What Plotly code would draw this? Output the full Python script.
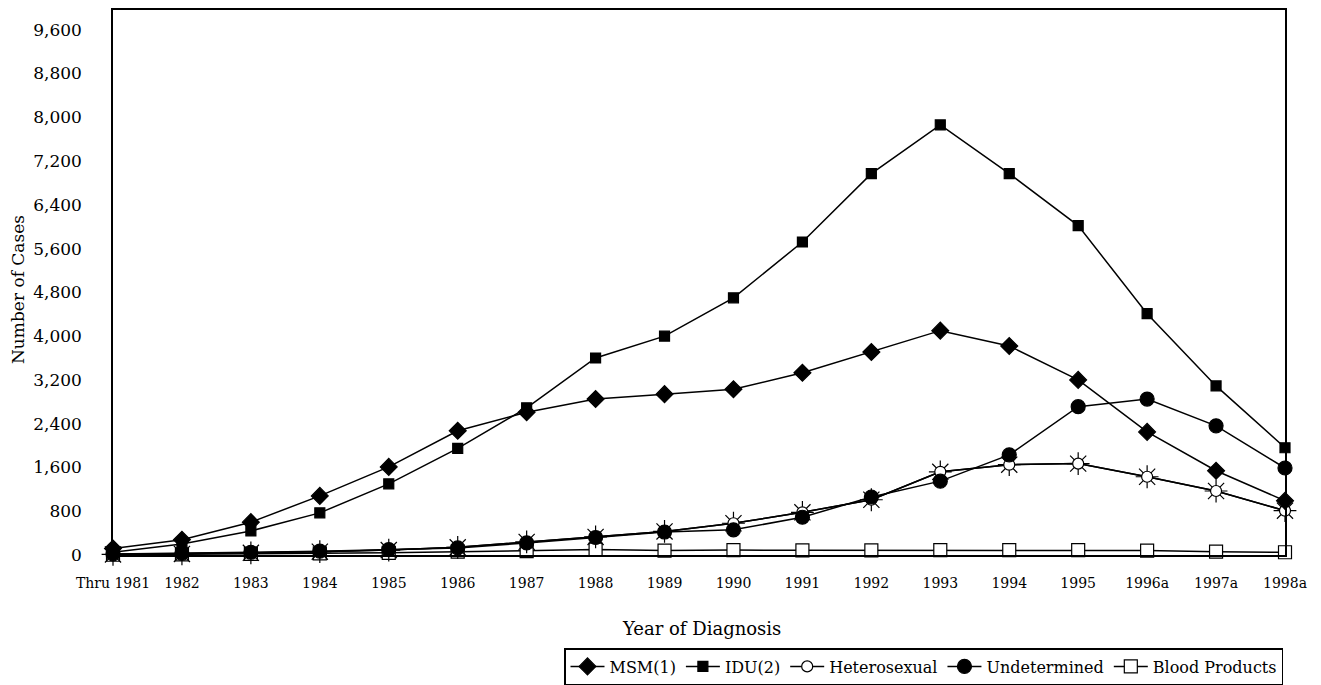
import plotly.graph_objects as go

years = ["Thru 1981", "1982", "1983", "1984", "1985", "1986", "1987", "1988", "1989",
         "1990", "1991", "1992", "1993", "1994", "1995", "1996a", "1997a", "1998a"]
msm = [120, 280, 600, 1080, 1610, 2270, 2610, 2850, 2940, 3030, 3330, 3710, 4100, 3820, 3200, 2250, 1540, 990]
idu = [50, 200, 440, 770, 1300, 1950, 2690, 3600, 4000, 4700, 5720, 6970, 7860, 6970, 6020, 4410, 3090, 1960]
hetero = [10, 20, 40, 60, 90, 140, 240, 330, 430, 580, 780, 1010, 1520, 1650, 1670, 1430, 1170, 810]
undet = [20, 30, 50, 70, 100, 130, 220, 320, 420, 460, 690, 1060, 1350, 1830, 2710, 2850, 2360, 1590]
blood = [5, 10, 20, 30, 40, 60, 70, 100, 80, 90, 85, 85, 90, 90, 90, 80, 60, 50]
yticks = list(range(0, 9601, 800))

FONT = "DejaVu Serif"
fig = go.Figure()
lw = 1.5

def add(name, y, symbol, size, color="black", show=True, rank=0):
    fig.add_trace(go.Scatter(
        x=years, y=y, name=name, mode="lines+markers", showlegend=show,
        legendrank=rank,
        line=dict(color="black", width=lw),
        marker=dict(symbol=symbol, size=size, color=color, line=dict(color="black", width=1.2)),
        cliponaxis=False))

add("Blood Products", blood, "square", 13, color="white", rank=5)
add("Heterosexual_rays", hetero, "asterisk-open", 19, show=False)
add("Heterosexual", hetero, "circle", 11, color="white", rank=3)
add("Undetermined", undet, "circle", 14, rank=4)
add("IDU(2)", idu, "square", 10, rank=2)
add("MSM(1)", msm, "diamond", 13, rank=1)

# page offset from default body margin
OFF = 8
W, H = 1321 - OFF, 685 - OFF
# target page pixel positions of the plot area
PL, PT, PR, PB = 113, 10, 1285, 555
L = PL - OFF
T = PT - OFF
R = W - (PR - OFF)
B = H - (PB - OFF)
pw = PR - PL
ph = PB - PT

def px(x):
    return (x - PL) / pw

def py(y):
    return (PB - y) / ph

fig.update_layout(
    width=W, height=H,
    margin=dict(l=L, r=R, t=T, b=B, autoexpand=False),
    paper_bgcolor="white", plot_bgcolor="white",
    font=dict(family=FONT, size=15, color="black"),
    showlegend=True,
    legend=dict(orientation="h", x=px(1283), xanchor="right",
                y=py(648), yanchor="top", bordercolor="black", borderwidth=1.5,
                font=dict(family=FONT, size=16), itemwidth=34,
                tracegroupgap=0),
    xaxis=dict(type="category", range=[0, 17], showgrid=False, zeroline=False,
               showline=True, mirror=True, linecolor="black", linewidth=1.5,
               ticks="", ticklabelstandoff=14, tickfont=dict(size=14), automargin=False),
    yaxis=dict(range=[0, 9960], tickvals=yticks,
               tickformat=",", showgrid=False,
               zeroline=False, showline=True, mirror=True, linecolor="black",
               linewidth=1.5, ticks="", ticklabelstandoff=26, tickfont=dict(size=17),
               automargin=False),
    annotations=[
        dict(text="Year of Diagnosis", x=px(701), y=py(628), xanchor="center", yanchor="middle",
             xref="paper", yref="paper", showarrow=False, font=dict(size=18)),
        dict(text="Number of Cases", textangle=-90, x=px(18), y=py(290),
             xanchor="center", yanchor="middle",
             xref="paper", yref="paper", showarrow=False, font=dict(size=17)),
    ],
)
fig.write_html("out.html")
